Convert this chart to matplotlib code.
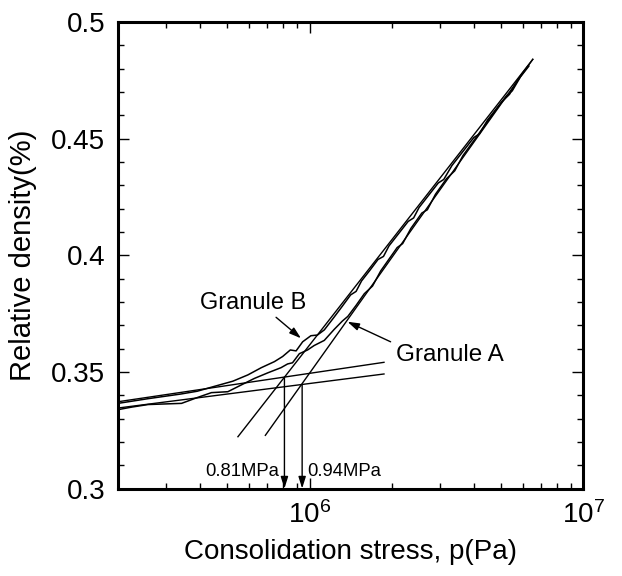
import numpy as np
import matplotlib
matplotlib.use("Agg")
import matplotlib.pyplot as plt
from matplotlib.ticker import LogLocator, NullFormatter, MultipleLocator, FormatStrFormatter

plt.rcParams["font.family"] = ["Liberation Sans", "DejaVu Sans"]
plt.rcParams["mathtext.fontset"] = "custom"
plt.rcParams["mathtext.rm"] = "Liberation Sans"
plt.rcParams["mathtext.it"] = "Liberation Sans:italic"

# compaction curves, log10 of stress (Pa) and relative density
logp_b = [5.301, 5.41, 5.53, 5.59, 5.65, 5.72, 5.775, 5.824, 5.872, 5.902, 5.930, 5.951,
          5.975, 6.005, 6.029, 6.054, 6.09, 6.12, 6.15, 6.17, 6.19, 6.22, 6.25, 6.27,
          6.29, 6.33, 6.36, 6.38, 6.40, 6.44, 6.47, 6.49, 6.52, 6.56, 6.60, 6.62, 6.65,
          6.69, 6.72, 6.74, 6.77, 6.80]
dens_b = [0.3365, 0.3385, 0.3405, 0.3417, 0.3437, 0.3460, 0.3487, 0.3518, 0.3544, 0.3566,
          0.3594, 0.3590, 0.3629, 0.3655, 0.3658, 0.3680, 0.3735, 0.3782, 0.3830, 0.3845,
          0.3890, 0.3935, 0.3982, 0.3995, 0.4040, 0.4100, 0.4145, 0.4160, 0.4205, 0.4265,
          0.4310, 0.4325, 0.4385, 0.4445, 0.4505, 0.4520, 0.4580, 0.4640, 0.4685, 0.4705,
          0.4765, 0.4810]

logp_a = [5.301, 5.351, 5.411, 5.533, 5.593, 5.642, 5.702, 5.751, 5.799, 5.848, 5.896,
          5.920, 5.938, 5.963, 5.993, 6.017, 6.054, 6.09, 6.12, 6.14, 6.17, 6.20, 6.23,
          6.26, 6.29, 6.32, 6.34, 6.37, 6.41, 6.43, 6.46, 6.50, 6.53, 6.56, 6.60, 6.63,
          6.66, 6.70, 6.73, 6.76, 6.78, 6.80]
dens_a = [0.3338, 0.3349, 0.3360, 0.3365, 0.3391, 0.3411, 0.3415, 0.3444, 0.3472, 0.3496,
          0.3518, 0.3534, 0.3539, 0.3578, 0.3594, 0.3613, 0.3635, 0.3682, 0.3718, 0.3738,
          0.3785, 0.3835, 0.3868, 0.3933, 0.3983, 0.4033, 0.4050, 0.4115, 0.4181, 0.4195,
          0.4262, 0.4328, 0.4362, 0.4427, 0.4492, 0.4541, 0.4590, 0.4655, 0.4690, 0.4752,
          0.4785, 0.4815]

# straight-line fits: low-pressure and high-pressure branches (endpoints)
low_fit_p = [[2e5, 1.87e6], [2e5, 1.87e6]]
low_fit_d = [[0.3372, 0.3541], [0.3345, 0.3491]]
high_fit_p = [[5.48e5, 6.53e6], [6.9e5, 6.53e6]]
high_fit_d = [[0.3222, 0.4840], [0.3228, 0.4840]]

yield_p = [0.81e6, 0.94e6]
yield_labels = ["0.81MPa", "0.94MPa"]

fig = plt.figure(figsize=(6.22, 5.76), dpi=100)
ax = fig.add_axes([0.1897, 0.1519, 0.7484, 0.8099])

ax.plot(10 ** np.array(logp_b), dens_b, color="black", lw=1.1)
ax.plot(10 ** np.array(logp_a), dens_a, color="black", lw=1.1)
for p, d in zip(low_fit_p, low_fit_d):
    ax.plot(p, d, color="black", lw=1.0)
for p, d in zip(high_fit_p, high_fit_d):
    ax.plot(p, d, color="black", lw=1.0)

arrow_style = dict(arrowstyle="-|>,head_length=0.7,head_width=0.22",
                   color="black", lw=1.0, shrinkA=0, shrinkB=0)

# vertical arrows from the intersection of the fits down to the axis
for i, p in enumerate(yield_p):
    lp = np.log10(low_fit_p[i])
    top = np.interp(np.log10(p), lp, low_fit_d[i])
    ax.annotate("", xy=(p, 0.3), xytext=(p, top), arrowprops=arrow_style)

ax.text(yield_p[0] * 0.955, 0.3072, yield_labels[0], ha="right", va="center", fontsize=13.3)
ax.text(yield_p[1] * 1.04, 0.3072, yield_labels[1], ha="left", va="center", fontsize=13.3)

ax.text(10 ** 5.793, 0.3794, "Granule B", ha="center", va="center", fontsize=17)
ax.annotate("", xy=(10 ** 5.969, 0.3644), xytext=(10 ** 5.878, 0.3734), arrowprops=arrow_style)
ax.text(10 ** 6.512, 0.3572, "Granule A", ha="center", va="center", fontsize=17.5)
ax.annotate("", xy=(10 ** 6.1385, 0.3715), xytext=(10 ** 6.296, 0.3629), arrowprops=arrow_style)

ax.set_xscale("log")
ax.set_xlim(2e5, 1e7)
ax.set_ylim(0.3, 0.5)
ax.xaxis.set_major_locator(LogLocator(base=10))
ax.xaxis.set_minor_locator(LogLocator(base=10, subs=np.arange(2, 10)))
ax.xaxis.set_minor_formatter(NullFormatter())
ax.yaxis.set_major_locator(MultipleLocator(0.05))
ax.yaxis.set_minor_locator(MultipleLocator(0.01))
ax.yaxis.set_major_formatter(FormatStrFormatter("%g"))

for s in ax.spines.values():
    s.set_linewidth(2.2)
ax.tick_params(which="both", direction="in", top=True, right=True, width=1.0)
ax.tick_params(which="major", length=8, labelsize=20, pad=9)
ax.tick_params(which="minor", length=4.5)

ax.set_xlabel("Consolidation stress, p(Pa)", fontsize=20, labelpad=7)
ax.set_ylabel("Relative density(%)", fontsize=21, labelpad=10)

fig.savefig("out.png", dpi=100)
